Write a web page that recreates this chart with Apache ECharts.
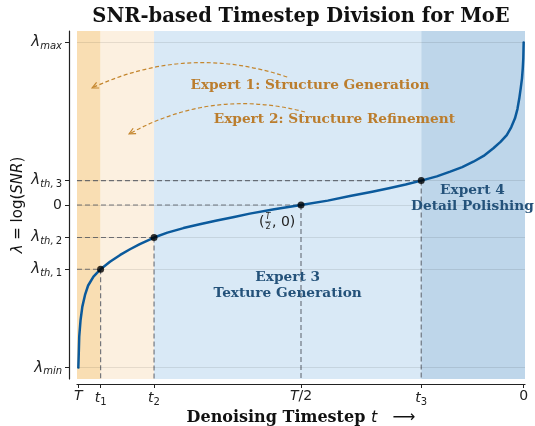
<!DOCTYPE html>
<html>
<head>
<meta charset="utf-8">
<script src="https://cdn.jsdelivr.net/npm/echarts@6/dist/echarts.min.js"></script>
<style>
  html, body { margin: 0; padding: 0; background: #fff; }
  #chart { width: 535px; height: 426px; }
</style>
</head>
<body>
<div id="chart"></div>
<script>
// timestep runs from T (=1000) on the left down to 0 on the right
const curveT = [1000, 999, 998, 995, 991, 985, 978, 966, 950, 929, 906, 884, 862, 830, 800, 764, 725, 689, 650, 615, 560, 500, 440, 390, 340, 300, 265, 230, 195, 165, 138, 113, 90, 68, 52, 38, 28, 19.5, 14, 9.8, 6.5, 3.75, 2, 0.8, 0]
const curveLambda = [-10, -9.1, -8.1, -7.07, -6.25, -5.53, -4.95, -4.41, -3.95, -3.49, -3.07, -2.72, -2.4, -2.0, -1.7, -1.42, -1.17, -0.95, -0.74, -0.53, -0.26, 0, 0.27, 0.55, 0.82, 1.05, 1.26, 1.5, 1.76, 2.05, 2.33, 2.66, 3.02, 3.49, 3.88, 4.3, 4.78, 5.33, 5.9, 6.56, 7.2, 7.79, 8.4, 9.02, 10]

// threshold points t1, t2, T/2, t3
const pointT = [950, 830, 500, 230]
const pointLambda = [-3.95, -2.0, 0, 1.5]

const xTickValues = [1000, 950, 830, 500, 230, 0]
const xTickLabels = ['{i|T}', '{i|t}{s|1}', '{i|t}{s|2}', '{i|T}{n|/2}', '{i|t}{s|3}', '{n|0}']
const yTickValues = [-10, -3.95, -2.0, 0, 1.5, 10]
const yTickLabels = ['{l|λ}{s|min}', '{l|λ}{s|th,}{u|1}', '{l|λ}{s|th,}{u|2}', '{n|0}', '{l|λ}{s|th,}{u|3}', '{l|λ}{s|max}']

// expert regions (left edge, right edge) and colours
const bandFrom = [1003, 950, 830, 230]
const bandTo = [950, 830, 230, -3]
const bandColors = ['#f9deb3', '#fcf0e0', '#d9e9f6', '#bed6ea']

// annotations (data coords)
const arrowFrom = [[531, 7.87], [491, 5.72]]
const arrowTo = [[969, 7.2], [886, 4.37]]
const expertText = ['Expert 1: Structure Generation', 'Expert 2: Structure Refinement', 'Expert 3\nTexture Generation', 'Expert 4\nDetail Polishing']
const expertPos = [[480, 7.38], [425, 5.29], [530, -4.95], [115, 0.41]]
const expertColors = ['#bb7d2d', '#bb7d2d', '#24527a', '#24527a']

const X_MIN = -3
const X_MAX = 1003
const Y_MIN = -10.7
const Y_MAX = 10.7
const SPINE_T = 1021 // where the offset left spine sits

const chart = echarts.init(document.getElementById('chart'))

const guides = []
pointT.forEach((t, i) => {
  guides.push([[SPINE_T, pointLambda[i]], [t, pointLambda[i]]])
  guides.push([[t, pointLambda[i]], [t, Y_MIN]])
})

const dashStyle = { color: 'rgba(85,90,100,0.8)', width: 1.2, type: [5, 3] }

const option = {
  animation: false,
  title: {
    text: 'SNR-based Timestep Division for MoE',
    left: 296,
    top: 2,
    textAlign: 'center',
    textStyle: { fontFamily: 'DejaVu Serif', fontWeight: 'bold', fontSize: 19.5, color: '#111' }
  },
  grid: { left: 77, right: 10, top: 31, bottom: 47, outerBoundsMode: 'none', containLabel: false },
  xAxis: {
    type: 'value',
    min: X_MIN,
    max: X_MAX,
    inverse: true,
    offset: 5,
    splitLine: { show: false },
    axisLine: { show: true, onZero: false, lineStyle: { color: '#222', width: 1.2 } },
    axisTick: { show: true, customValues: xTickValues, length: 4, lineStyle: { color: '#222' } },
    axisLabel: {
      customValues: xTickValues,
      margin: 5,
      formatter: v => xTickLabels[xTickValues.indexOf(v)] || '',
      rich: {
        i: { fontFamily: 'DejaVu Sans', fontStyle: 'italic', fontSize: 14, color: '#222' },
        n: { fontFamily: 'DejaVu Sans', fontSize: 14, color: '#222' },
        s: { fontFamily: 'DejaVu Sans', fontSize: 10, color: '#222', padding: [8, 0, 0, 0] }
      }
    },
    name: '{b|Denoising Timestep }{i|t}{a|   ⟶}',
    nameLocation: 'middle',
    nameGap: 26,
    nameMoveOverlap: false,
    nameTextStyle: {
      rich: {
        b: { fontFamily: 'DejaVu Serif', fontWeight: 'bold', fontSize: 16, color: '#111' },
        i: { fontFamily: 'DejaVu Sans', fontStyle: 'italic', fontSize: 16, color: '#111' },
        a: { fontFamily: 'DejaVu Sans', fontSize: 16, color: '#111' }
      }
    }
  },
  yAxis: {
    type: 'value',
    min: Y_MIN,
    max: Y_MAX,
    offset: 8,
    splitLine: { show: false },
    axisLine: { show: true, onZero: false, lineStyle: { color: '#222', width: 1.2 } },
    axisTick: { show: true, customValues: yTickValues, length: 4, lineStyle: { color: '#222' } },
    axisLabel: {
      customValues: yTickValues,
      margin: 7,
      formatter: v => {
        const i = yTickValues.findIndex(y => Math.abs(y - v) < 1e-6)
        return i >= 0 ? yTickLabels[i] : ''
      },
      rich: {
        l: { fontFamily: 'DejaVu Sans', fontStyle: 'italic', fontSize: 15, color: '#222' },
        n: { fontFamily: 'DejaVu Sans', fontSize: 14, color: '#222' },
        s: { fontFamily: 'DejaVu Sans', fontStyle: 'italic', fontSize: 10, color: '#222', padding: [8, 0, 0, 0] },
        u: { fontFamily: 'DejaVu Sans', fontSize: 10, color: '#222', padding: [8, 0, 0, 2] }
      }
    },
    name: '{i|λ} = log({i|SNR})',
    nameLocation: 'middle',
    nameRotate: 90,
    nameGap: 43,
    nameMoveOverlap: false,
    nameTextStyle: {
      rich: {
        i: { fontFamily: 'DejaVu Sans', fontStyle: 'italic', fontSize: 15, color: '#111' }
      },
      fontFamily: 'DejaVu Sans',
      fontSize: 15,
      color: '#111'
    }
  },
  series: [
    {
      type: 'line',
      data: [],
      silent: true,
      markArea: {
        silent: true,
        data: bandFrom.map((f, i) => [
          { xAxis: f, itemStyle: { color: bandColors[i] } },
          { xAxis: bandTo[i] }
        ])
      },
      markLine: {
        silent: true,
        symbol: 'none',
        label: { show: false },
        lineStyle: { color: 'rgba(0,0,0,0.09)', width: 1.2, type: 'solid' },
        data: yTickValues.map(v => ({ yAxis: v }))
      }
    },
    ...guides.map(g => ({
      type: 'line',
      data: g,
      clip: false,
      silent: true,
      symbol: 'none',
      lineStyle: dashStyle,
      z: 3
    })),
    {
      type: 'line',
      data: curveT.map((t, i) => [t, curveLambda[i]]),
      smooth: false,
      symbol: 'none',
      lineStyle: { color: '#0b5a9c', width: 2.5, join: 'round', cap: 'round' },
      z: 4
    },
    {
      type: 'scatter',
      data: pointT.map((t, i) => [t, pointLambda[i]]),
      symbolSize: 7,
      itemStyle: { color: '#000' },
      z: 5
    }
  ]
}

chart.setOption(option)

// annotations placed through the chart's own scales
const graphics = []
arrowFrom.forEach((from, i) => {
  const p0 = chart.convertToPixel({ gridIndex: 0 }, from)
  const p2 = chart.convertToPixel({ gridIndex: 0 }, arrowTo[i])
  const dx = p2[0] - p0[0]
  const dy = p2[1] - p0[1]
  // bend upwards, like an arc3 connection
  const cp = [(p0[0] + p2[0]) / 2 - 0.2 * Math.abs(dy) * Math.sign(dy), (p0[1] + p2[1]) / 2 - 0.2 * Math.abs(dx)]
  graphics.push({
    type: 'bezierCurve',
    shape: { x1: p0[0], y1: p0[1], x2: p2[0], y2: p2[1], cpx1: cp[0], cpy1: cp[1] },
    style: { stroke: '#c4862e', lineWidth: 1.2, lineDash: [4, 2.5], fill: null },
    silent: true,
    z: 10
  })
  const ang = Math.atan2(p2[1] - cp[1], p2[0] - cp[0])
  const len = 7
  const h1 = [p2[0] - len * Math.cos(ang - 0.45), p2[1] - len * Math.sin(ang - 0.45)]
  const h2 = [p2[0] - len * Math.cos(ang + 0.45), p2[1] - len * Math.sin(ang + 0.45)]
  graphics.push({
    type: 'polyline',
    shape: { points: [h1, p2, h2] },
    style: { stroke: '#c4862e', lineWidth: 1.2, fill: null },
    silent: true,
    z: 10
  })
})

expertText.forEach((txt, i) => {
  const p = chart.convertToPixel({ gridIndex: 0 }, expertPos[i])
  graphics.push({
    type: 'text',
    x: p[0],
    y: p[1],
    silent: true,
    z: 10,
    style: {
      text: txt,
      align: 'center',
      verticalAlign: 'middle',
      lineHeight: 16,
      font: 'bold 13.7px "DejaVu Serif"',
      fill: expertColors[i]
    }
  })
})

// (T/2, 0) label next to the middle point
const mid = chart.convertToPixel({ gridIndex: 0 }, [pointT[2], pointLambda[2]])
const lx = mid[0] - 24
const ly = mid[1] + 17
const sans = '"DejaVu Sans"'
graphics.push(
  { type: 'text', x: lx - 18, y: ly, z: 10, silent: true, style: { text: '(', font: '14px ' + sans, fill: '#222', align: 'left', verticalAlign: 'middle' } },
  { type: 'text', x: lx - 9, y: ly - 5, z: 10, silent: true, style: { text: 'T', font: 'italic 8px ' + sans, fill: '#222', align: 'center', verticalAlign: 'middle' } },
  { type: 'line', z: 10, silent: true, shape: { x1: lx - 12, y1: ly, x2: lx - 6, y2: ly }, style: { stroke: '#222', lineWidth: 0.8 } },
  { type: 'text', x: lx - 9, y: ly + 5, z: 10, silent: true, style: { text: '2', font: '8px ' + sans, fill: '#222', align: 'center', verticalAlign: 'middle' } },
  { type: 'text', x: lx - 5, y: ly, z: 10, silent: true, style: { text: ', 0)', font: '14px ' + sans, fill: '#222', align: 'left', verticalAlign: 'middle' } }
)

chart.setOption({ graphic: graphics })
</script>
</body>
</html>
